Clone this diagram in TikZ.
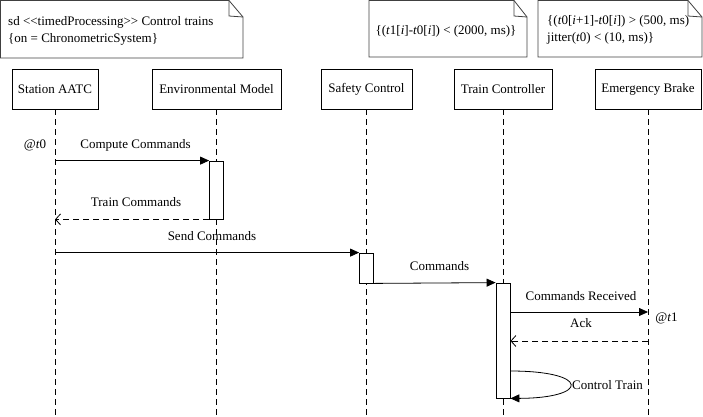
\documentclass[tikz,border=0pt]{standalone}
\usepackage{fontspec}
\setmainfont{Liberation Serif}
\usetikzlibrary{arrows.meta}
\begin{document}
\begin{tikzpicture}[x=1pt,y=-1pt,font=\fontsize{13}{16}\selectfont,
  lifebox/.style={draw,line width=0.8pt,minimum height=40pt,inner sep=0pt},
  actbox/.style={draw,fill=white,line width=0.8pt,minimum width=14pt,inner sep=0pt},
  lifeline/.style={line width=0.8pt,dash pattern=on 6pt off 4pt},
  msg/.style={line width=0.8pt,-{Triangle[length=9pt,width=8pt]}},
  ret/.style={line width=0.8pt,dash pattern=on 6pt off 4pt,-{Straight Barb[length=5pt,width=11pt]}},
  lbl/.style={inner sep=0pt},
  notetext/.style={lbl,anchor=west,align=left,font=\fontsize{13}{17.5}\selectfont},
  notebox/.style={draw=black!75,line width=0.8pt}]
\useasboundingbox (0,0) rectangle (703,416);
\coordinate (bot) at (0,416);
% notes
\draw[notebox] (0.5,0.5) -- (229,0.5) -- (243,17) -- (243,58) -- (0.5,58) -- cycle;
\draw[notebox] (229,0.5) -- (229,16) -- (243,17);
\node[notetext] (n1) at (8,31) {sd <{}<timedProcessing>{}> Control trains\\\{on = ChronometricSystem\}};
\draw[notebox] (369,0.5) -- (514,0.5) -- (527,17) -- (527,57) -- (369,57) -- cycle;
\draw[notebox] (514,0.5) -- (514,16) -- (527,17);
\node[lbl] (n2) at (446,31) {\{(\textit{t}1[\textit{i}]-\textit{t}0[\textit{i}]) < (2000, ms)\}};
\draw[notebox] (538,0.5) -- (688,0.5) -- (702,17) -- (702,57) -- (538,57) -- cycle;
\draw[notebox] (688,0.5) -- (688,16) -- (702,17);
\node[notetext] (n3) at (547,30) {\{(\textit{t}0[\textit{i}+1]-\textit{t}0[\textit{i}]) > (500, ms)\\jitter(\textit{t}0) < (10, ms)\}};
% lifeline heads
\node[lifebox,minimum width=86pt] (sa) at (55,89) {Station AATC};
\node[lifebox,minimum width=129pt] (em) at (216.5,89) {Environmental Model};
\node[lifebox,minimum width=91pt] (sc) at (366.5,89) {Safety Control};
\node[lifebox,minimum width=98pt] (tc) at (503,89) {Train Controller};
\node[lifebox,minimum width=106pt] (eb) at (648,89) {Emergency Brake};
% lifelines
\foreach \n in {sa,em,sc,tc,eb} \draw[lifeline] (\n) -- (\n |- bot);
% activations
\node[actbox,minimum height=58pt] (act1) at (216.5,190) {};
\node[actbox,minimum height=30pt] (act2) at (366.5,268) {};
\node[actbox,minimum height=115pt] (act3) at (503,340.5) {};
\coordinate (m5) at (0,312);
\coordinate (m6) at (0,341);
\coordinate (m7) at (0,371);
% messages
\draw[msg] (sa |- act1.north) -- (act1.north west);
\draw[ret] (act1.south west) -- (sa |- act1.south);
\draw[msg] (sa |- act2.north) -- (act2.north west);
\draw[msg] (act2.south east) -- (act3.north west);
\draw[msg] (act3.east |- m5) -- (eb |- m5);
\draw[ret] (eb |- m6) -- (act3.east |- m6);
\draw[msg] (act3.east |- m7) .. controls (590,371) and (590,398) .. (act3.south east);
% labels
\node[lbl] (l0) at (35,145) {@\textit{t}0};
\node[lbl] (l1) at (135.5,145) {Compute Commands};
\node[lbl] (l2) at (136,202) {Train Commands};
\node[lbl] (l3) at (212,236) {Send Commands};
\node[lbl] (l4) at (439.5,266) {Commands};
\node[lbl] (l5) at (581,296) {Commands Received};
\node[lbl] (l6) at (581,323.5) {Ack};
\node[lbl] (l7) at (666.5,318) {@\textit{t}1};
\node[lbl,anchor=west] (l8) at (572,385) {Control Train};
\end{tikzpicture}
\end{document}
